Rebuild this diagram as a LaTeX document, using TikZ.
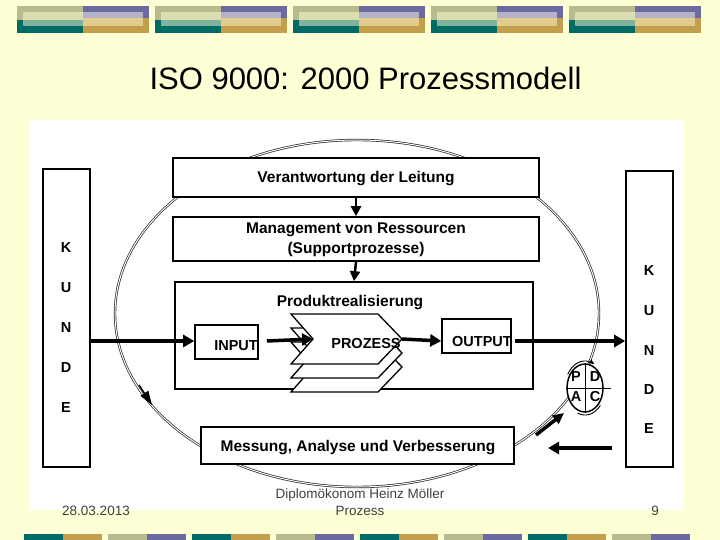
\documentclass[tikz,border=0pt]{standalone}
\usepackage{fontspec}
\setmainfont{Liberation Sans}
\usetikzlibrary{arrows.meta,shapes.geometric}
\definecolor{bg}{HTML}{FFFFD5}
\definecolor{oliveA}{HTML}{B8BB8E}
\definecolor{purpA}{HTML}{6B6AA0}
\definecolor{tealA}{HTML}{006A64}
\definecolor{goldA}{HTML}{C39F4C}
\definecolor{oliveB}{HTML}{DCDEB1}
\definecolor{purpB}{HTML}{B3B2C6}
\definecolor{tealB}{HTML}{80B39B}
\definecolor{goldB}{HTML}{E1CC8E}
\begin{document}
\begin{tikzpicture}[x=1pt,y=-1pt,
  box/.style={draw, line width=1.6pt, fill=white, inner sep=0pt, font=\bfseries\fontsize{15.5}{20}\selectfont},
  lbl/.style={inner sep=0pt, font=\bfseries\fontsize{15.5}{20.5}\selectfont},
  lblsm/.style={inner sep=0pt, font=\bfseries\fontsize{14.5}{17}\selectfont},
  pdcal/.style={inner sep=0pt, font=\bfseries\fontsize{14.5}{16}\selectfont},
  foot/.style={inner sep=0pt, text=black!75, font=\fontsize{13.5}{16}\selectfont},
  ring/.style={draw=black!85, line width=0.7pt, double=white, double distance=1pt},
  bigarrow/.style={line width=3.5pt, -{Triangle[length=11pt,width=12pt]}},
  smallarrow/.style={line width=2.5pt, -{Triangle[length=10pt,width=10pt]}},
  chevron/.style={draw, line width=1.3pt, fill=white, line join=miter}]
\useasboundingbox (0,0) rectangle (720,540);
\fill[bg] (0,0) rectangle (720,540);
% top bars
\foreach \i in {0,...,4}{
  \begin{scope}[xshift=\i*138pt]
    \fill[oliveA] (17,6) rectangle (83,20);
    \fill[tealA] (17,20) rectangle (83,33);
    \fill[purpA] (83,6) rectangle (149,18.5);
    \fill[goldA] (83,18.5) rectangle (149,33);
    \fill[oliveB] (23,12) rectangle (83,20);
    \fill[tealB] (23,20) rectangle (83,26);
    \fill[purpB] (83,12) rectangle (143,18.5);
    \fill[goldB] (83,18.5) rectangle (143,26);
  \end{scope}}
% bottom bars
\foreach \i in {0,2,4,6}{
  \fill[tealA] ({24+84*\i},534) rectangle ++(39,6);
  \fill[goldA] ({63+84*\i},534) rectangle ++(39,6);}
\foreach \i in {1,3,5,7}{
  \fill[oliveA] ({24+84*\i},534) rectangle ++(39,6);
  \fill[purpA] ({63+84*\i},534) rectangle ++(39,6);}
% white panel
\fill[white] (30,120) rectangle (684,510);
% title
\node[inner sep=0pt, anchor=base, font=\fontsize{31}{36}\selectfont] (title) at (365.5,90) {ISO 9000: 2000 Prozessmodell};
% big ring
\draw[ring] (357,313.5) ellipse [x radius=242pt, y radius=173.5pt];
% boxes
\node[box, minimum width=366pt, minimum height=39pt] (vl) at (356,177.5) {};
\node[lbl] (vlt) at (356,179) {Verantwortung der Leitung};
\node[box, minimum width=366pt, minimum height=44pt] (mr) at (356,239) {};
\node[lbl, align=center] (mrt) at (356,240) {Management von Ressourcen\\(Supportprozesse)};
\node[box, minimum width=358pt, minimum height=107pt] (pr) at (354,335.5) {};
\node[lbl] (prt) at (350,303) {Produktrealisierung};
\node[box, minimum width=63pt, minimum height=34pt] (inp) at (226.5,342) {};
\node[lblsm] (inpt) at (236,346) {INPUT};
\node[box, minimum width=69pt, minimum height=34pt] (out) at (476.5,336) {};
\node[lblsm] (outt) at (482,342) {OUTPUT};
\node[box, minimum width=313pt, minimum height=37pt] (mav) at (357.5,445.5) {};
\node[lbl] (mavt) at (358,448) {Messung, Analyse und Verbesserung};
\node[box, minimum width=47pt, minimum height=298pt] (kl) at (66.5,318) {};
\node[box, minimum width=47pt, minimum height=296pt] (kr) at (649.5,319) {};
\foreach \l/\y in {K/248,U/288,N/328,D/368,E/408}
  \node[lblsm] (kl\l) at (66,\y) {\l};
\foreach \l/\y in {K/271,U/311,N/351,D/390,E/429}
  \node[lblsm] (kr\l) at (649,\y) {\l};
% process stack
\foreach \d in {28,14,0}
  \draw[chevron] (291,{314+\d}) -- (378,{314+\d}) -- (402,{339+\d}) -- (378,{364+\d}) -- (291,{364+\d}) -- (313,{339+\d}) -- cycle;
\coordinate (pz) at (313,339);
\coordinate (ptip) at (402,339);
\node[lblsm] (pzt) at (366,344) {PROZESS};
% arrows
\coordinate (ay) at (0,341);
\draw[smallarrow] (vl.south) -- (mr.north);
\draw[smallarrow] (mr.south) -- (pr.north);
\draw[bigarrow] (kl.east |- ay) -- (inp.west |- ay);
\draw[bigarrow] ([xshift=8pt]inp.east |- ay) -- (pz);
\draw[bigarrow] (ptip) -- (out.west |- ay);
\draw[bigarrow] ([xshift=3pt]out.east |- ay) -- (kr.west |- ay);
\coordinate (ra) at (612,448);
\coordinate (rb) at (548,448);
\draw[bigarrow] (ra) -- (rb);
% arrows on ring
\coordinate (e1) at (139,385);
\coordinate (e2) at (152,405);
\draw[line width=1.5pt, -{Triangle[length=14pt,width=9pt]}] (e1) -- (e2);
\coordinate (e3) at (536,435);
\coordinate (e4) at (564,413);
\draw[line width=3.5pt, -{Triangle[length=11pt,width=10pt]}] (e3) -- (e4);
% PDCA
\node[draw, ellipse, line width=1.5pt, fill=white, minimum width=36pt, minimum height=48pt, inner sep=0pt] (pdca) at (585,388) {};
\draw[line width=1pt] (pdca.north) -- (pdca.south);
\draw[line width=1pt] (pdca.west) -- ([xshift=7pt]pdca.east);
\node[pdcal] (pP) at (576,377) {P};
\node[pdcal] (pD) at (595,377) {D};
\node[pdcal] (pA) at (576,397) {A};
\node[pdcal] (pC) at (595,397) {C};
\draw[line width=0.9pt, -{Stealth[length=6pt,width=5pt]}, domain=150:62, samples=30] plot ({585+20*cos(\x)},{388-27*sin(\x)});
\draw[line width=0.9pt, domain=-112:-40, samples=30] plot ({585+20*cos(\x)},{388-27*sin(\x)});
% footer
\node[foot, anchor=base] (date) at (96,515) {28.03.2013};
\node[foot, anchor=base] (auth) at (360,498) {Diplomökonom Heinz Möller};
\node[foot, anchor=base] (proz) at (360,515) {Prozess};
\node[foot, anchor=base] (page) at (655,515) {9};
\end{tikzpicture}
\end{document}
